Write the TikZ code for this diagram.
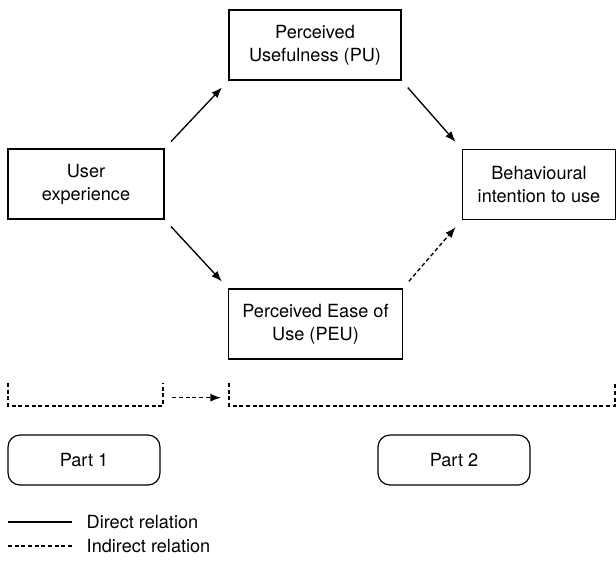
\documentclass[tikz,border=0pt]{standalone}
\usepackage{fontspec}
\setmainfont{TeX Gyre Heros}
\usepackage{tikz}
\usetikzlibrary{positioning, arrows.meta}

\begin{document}
\begin{tikzpicture}[
    x=0.75pt, y=-0.75pt,
    box/.style={rectangle, draw, line width=0.9pt, minimum height=52.5pt, align=center, font=\fontsize{13.6}{17.3}\selectfont},
    partbox/.style={rectangle, draw, line width=0.9pt, rounded corners=9pt, minimum width=114pt, minimum height=37.5pt, font=\fontsize{13.6}{17.3}\selectfont},
    arrow/.style={line width=1pt, -{Latex[length=8pt, width=6pt]}, shorten <=7pt, shorten >=7pt},
    bracket/.style={line width=0.9pt, dash pattern=on 3pt off 2pt},
    legendtext/.style={anchor=west, font=\fontsize{13.6}{17.3}\selectfont}
]

\useasboundingbox (0,0) rectangle (616,561);

\node[box, minimum width=117pt] (ux) at (86,184) {User\\experience};
\node[box, minimum width=129pt] (pu) at (315,45) {Perceived\\Usefulness (PU)};
\node[box, minimum width=130pt] (peu) at (315.5,324) {Perceived Ease of\\Use (PEU)};
\node[box, minimum width=115pt] (bi) at (539,184.5) {Behavioural\\intention to use};

\draw[arrow] (ux.north east) -- (pu.south west);
\draw[arrow] (ux.south east) -- (peu.north west);
\draw[arrow] (pu.south east) -- (bi.north west);
\draw[arrow, dash pattern=on 3pt off 2pt] (peu.north east) -- (bi.south west);

% parts
\coordinate (b1l) at (8,383);
\coordinate (b1r) at (163,383);
\coordinate (b2l) at (229,383);
\coordinate (b2r) at (615,383);
\draw[bracket] (b1l) -- ++(0,23) -| (b1r);
\draw[bracket] (b2l) -- ++(0,23) -| (b2r);
\draw[bracket, line width=1pt, -{Latex[length=8pt, width=6pt]}] ([xshift=7pt,yshift=-11pt]b1r) -- ([xshift=-6pt,yshift=-11pt]b2l);

\node[partbox] (part1) at (84,460) {Part 1};
\node[partbox] (part2) at (454,460) {Part 2};

% legend
\node[legendtext] (direct) at (82,522) {Direct relation};
\node[legendtext] (indirect) at (82,546) {Indirect relation};
\coordinate (dl) at (8,522);
\coordinate (il) at (8,546);
\draw[line width=0.9pt] (dl) -- (direct.west -| 72,0);
\draw[line width=0.9pt, dash pattern=on 3pt off 2pt] (il) -- (indirect.west -| 72,0);

\end{tikzpicture}
\end{document}
